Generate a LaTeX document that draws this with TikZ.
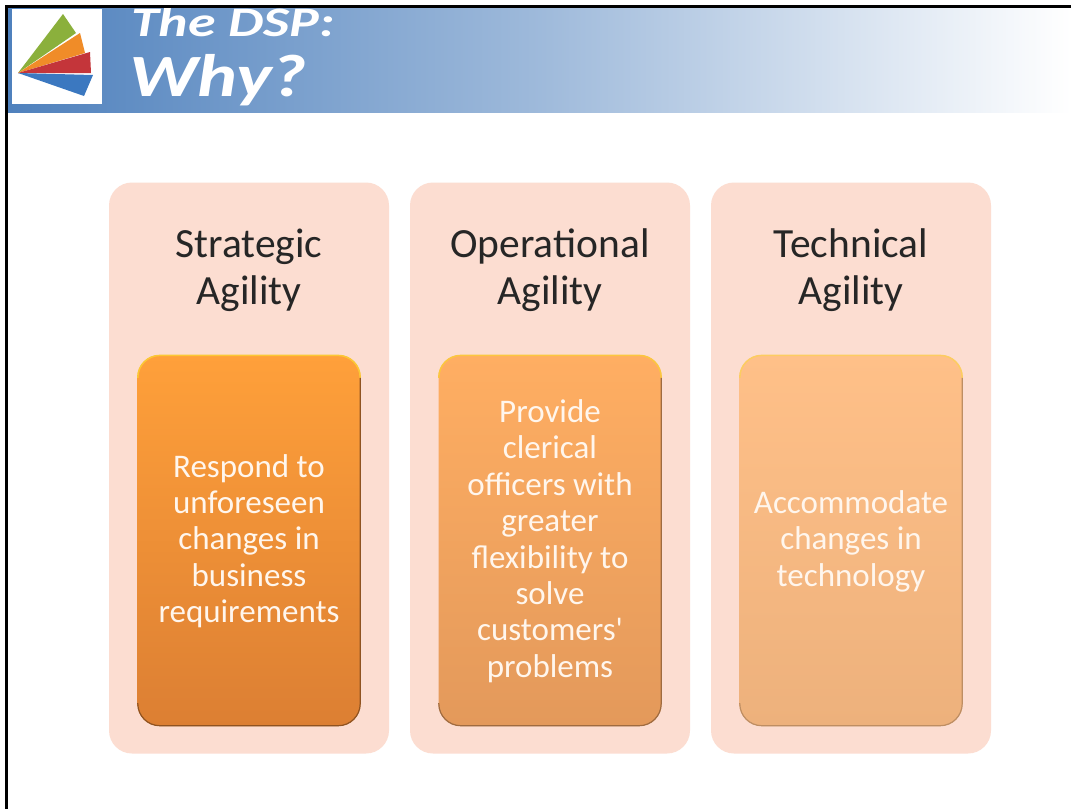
\documentclass[tikz,border=0pt]{standalone}
\usepackage{fontspec}
\setmainfont{Carlito}
\newfontfamily\plainquote{Carlito}
\usetikzlibrary{positioning}
\definecolor{panel}{HTML}{FCDDD1}
\definecolor{bandL}{HTML}{4F81BD}
\definecolor{aT}{HTML}{FFA03A}\definecolor{aB}{HTML}{DC7F33}
\definecolor{bT}{HTML}{FFAE62}\definecolor{bB}{HTML}{E3995B}
\definecolor{cT}{HTML}{FFC088}\definecolor{cB}{HTML}{EDB17C}
\definecolor{lgreen}{HTML}{8BB03C}\definecolor{lorange}{HTML}{F08C28}
\definecolor{lred}{HTML}{C4353A}\definecolor{lblue}{HTML}{3B78C0}
\tikzset{
 x=1pt,y=-1pt,
 panelbox/.style={fill=panel,rounded corners=23pt,draw=none},
 innerbox/.style={rounded corners=22pt,draw=none},
 hilite/.style={line width=1.5pt,rounded corners=22pt},
 lowlite/.style={line width=1.2pt,rounded corners=22pt},
 headtext/.style={font=\fontsize{41.5}{47}\selectfont,align=center,text=black!85,inner sep=0pt},
 bodytext/.style={font=\fontsize{33}{36.4}\selectfont,align=center,text=white!93!orange,inner sep=0pt},
 titletext/.style={font=\fontsize{#1}{#1}\selectfont\bfseries\itshape,text=white,inner sep=0pt,anchor=base west},
}
\newcommand{\bevel}[3]{%
 \draw[hilite,#2] ([yshift=-23pt,xshift=.5pt]#1.north west) |- ([yshift=-.6pt,xshift=-.5pt]#1.north east) -- ([yshift=-23pt,xshift=-.5pt]#1.north east);
 \draw[lowlite,#3] ([yshift=23pt,xshift=.5pt]#1.south west) |- ([yshift=.5pt,xshift=-.5pt]#1.south east) -- ([yshift=-23pt,xshift=-.5pt]#1.north east);
}
\begin{document}
\begin{tikzpicture}
\useasboundingbox (0,0) rectangle (1071,809);
\fill[white] (0,0) rectangle (1071,809);
% title band
\shade[left color=bandL,right color=white,middle color=bandL!55!white] (8,8) rectangle (1071,112);
\fill[white] (12,9) rectangle (102,104);
% logo
\fill[lgreen] (18,73) -- (63,14) -- (76,33) -- cycle;
\fill[lorange] (18,73) -- (80,33) -- (85,53) -- cycle;
\fill[lred] (18,73) -- (90,52) -- (91,73) -- cycle;
\fill[lblue] (18,73) -- (93,75) -- (84,96) -- cycle;
% title
\begin{scope}
\clip (8,8) rectangle (1071,130);
\node[titletext=42,xscale=1.33] (t1) at (131,36) {The DSP:};
\node[titletext=60,xscale=1.26] (t2) at (129,96) {Why?};
\end{scope}
% border
\fill[black] (5,5) rectangle (1071,8);
\fill[black] (5,5) rectangle (8,809);
% panels
\node[panelbox,minimum width=280pt,minimum height=571pt] (p1) at (249,468) {};
\node[panelbox,minimum width=280pt,minimum height=571pt] (p2) at (550,468) {};
\node[panelbox,minimum width=280pt,minimum height=571pt] (p3) at (851,468) {};
% inner boxes
\node[innerbox,top color=aT,middle color=aT!75!aB,bottom color=aB,minimum width=223pt,minimum height=371pt] (b1) at (249,540.5) {};
\node[innerbox,top color=bT,middle color=bT!75!bB,bottom color=bB,minimum width=223pt,minimum height=371pt] (b2) at (550,540.5) {};
\node[innerbox,top color=cT,middle color=cT!75!cB,bottom color=cB,minimum width=223pt,minimum height=371pt] (b3) at (851,540.5) {};
\bevel{b1}{yellow!50!orange!80!white}{aB!65!black}
\bevel{b2}{yellow!35!bT}{bB!70!black}
\bevel{b3}{yellow!25!cT}{cB!80!black}
% headers
\node[headtext] (h1) at (249,270) {Strategic\\Agility};
\node[headtext] (h2) at (550,270) {Operational\\Agility};
\node[headtext] (h3) at (851,270) {Technical\\Agility};
% body text
\node[bodytext] (x1) at (249,541) {Respond to\\unforeseen\\changes in\\business\\requirements};
\node[bodytext] (x2) at (550,541) {Provide\\clerical\\officers with\\greater\\flexibility to\\solve\\customers{\plainquote '}\\problems};
\node[bodytext] (x3) at (851,541) {Accommodate\\changes in\\technology};
\end{tikzpicture}
\end{document}
